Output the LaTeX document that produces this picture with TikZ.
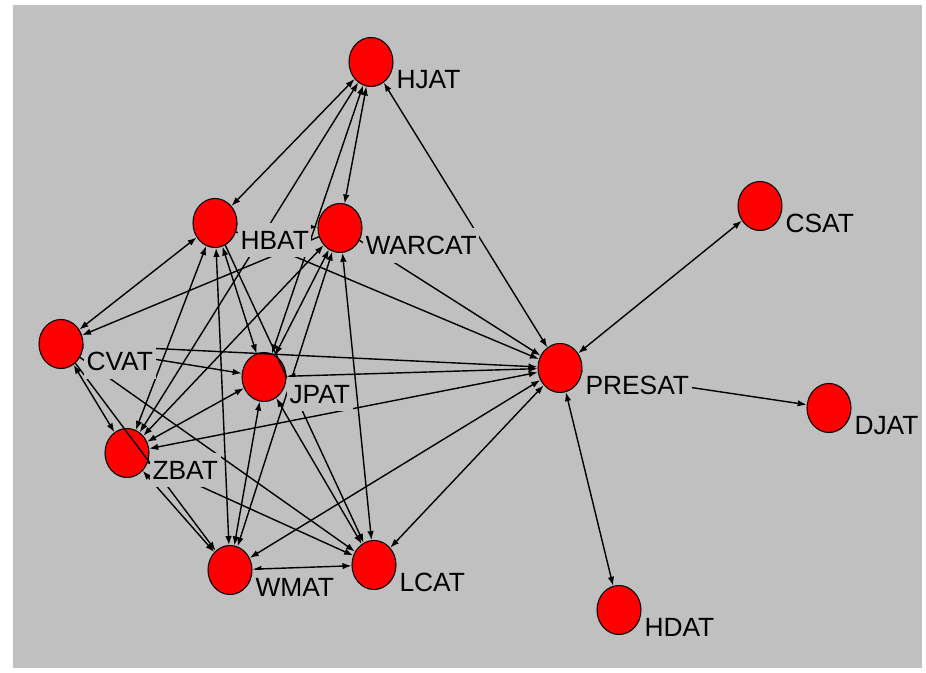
\documentclass[tikz,border=0pt]{standalone}
\usepackage{tikz}
\usepackage{fontspec}
\setmainfont{Liberation Sans}
\usetikzlibrary{shapes.geometric,arrows.meta}
\definecolor{netgray}{RGB}{192,192,192}
\definecolor{netred}{RGB}{255,0,0}

\begin{document}
\begin{tikzpicture}[
    actor/.style={ellipse,draw=black,fill=netred,line width=0.6pt,minimum width=0.88cm,minimum height=0.98cm,inner sep=0pt},
    actorlabel/.style={fill=netgray,anchor=north west,inner xsep=1.5pt,inner ysep=4.45pt,yshift=0cm,font=\fontsize{15}{17}\selectfont},
    tie/.style={line width=0.8pt,>={Latex[length=1.8mm,width=1.3mm]}}
]
    \useasboundingbox (0,0) rectangle (18.52,13.46);
    \fill[netgray] (0.26,0.1) rectangle (18.44,13.36);

    \node[actor] (hjat) at (7.42,12.22) {};
    \node[actor] (hbat) at (4.30,9.00) {};
    \node[actor] (warcat) at (6.80,8.90) {};
    \node[actor] (cvat) at (1.22,6.58) {};
    \node[actor] (jpat) at (5.28,5.92) {};
    \node[actor] (presat) at (11.20,6.10) {};
    \node[actor] (csat) at (15.20,9.34) {};
    \node[actor] (djat) at (16.58,5.30) {};
    \node[actor] (hdat) at (12.38,1.26) {};
    \node[actor] (zbat) at (2.54,4.40) {};
    \node[actor] (wmat) at (4.60,2.06) {};
    \node[actor] (lcat) at (7.48,2.16) {};

    % ties of PRESAT
    \draw[tie,->] (presat) -- (djat);
    \draw[tie,<->] (presat) -- (csat);
    \draw[tie,<->] (presat) -- (hdat);
    \draw[tie,<->] (hjat) -- (presat);
    \draw[tie,->] (warcat) -- (presat);
    \draw[tie,->] (hbat) -- (presat);
    \draw[tie,->] (cvat) -- (presat);
    \draw[tie,<->] (jpat) -- (presat);
    \draw[tie,<->] (zbat) -- (presat);
    \draw[tie,<->] (wmat) -- (presat);
    \draw[tie,<->] (lcat) -- (presat);

    % ties of the cluster
    \draw[tie,<->] (hjat) -- (hbat);
    \draw[tie,<->] (hjat) -- (warcat);
    \draw[tie,<->] (zbat) -- (hjat);
    \draw[tie,<->] (jpat) -- (hjat);
    \draw[tie,<->] (hbat) -- (cvat);
    \draw[tie,->] (hbat) -- (warcat);
    \draw[tie,<->] (zbat) -- (hbat);
    \draw[tie,<->] (wmat) -- (hbat);
    \draw[tie,<->] (hbat) -- (jpat);
    \draw[tie,->] (hbat) -- (lcat);
    \draw[tie,->] (warcat) -- (cvat);
    \draw[tie,<->] (warcat) -- (zbat);
    \draw[tie,<->] (warcat) -- (jpat);
    \draw[tie,<->] (warcat) -- (lcat);
    \draw[tie,<->] (warcat) -- (wmat);
    \draw[tie,->] (cvat) -- (jpat);
    \draw[tie,<->] (cvat) -- (zbat);
    \draw[tie,->] (cvat) -- (wmat);
    \draw[tie,->] (cvat) -- (lcat);
    \draw[tie,<->] (jpat) -- (zbat);
    \draw[tie,<->] (jpat) -- (wmat);
    \draw[tie,<->] (jpat) -- (lcat);
    \draw[tie,<->] (zbat) -- (wmat);
    \draw[tie,->] (zbat) -- (lcat);
    \draw[tie,<->] (wmat) -- (lcat);

    % labels
    \node[actorlabel] (hjatl) at (hjat.east) {HJAT};
    \node[actorlabel] (hbatl) at (hbat.east) {HBAT};
    \node[actorlabel] (warcatl) at (warcat.east) {WARCAT};
    \node[actorlabel] (cvatl) at (cvat.east) {CVAT};
    \node[actorlabel] (jpatl) at (jpat.east) {JPAT};
    \node[actorlabel] (presatl) at (presat.east) {PRESAT};
    \node[actorlabel] (csatl) at (csat.east) {CSAT};
    \node[actorlabel] (djatl) at (djat.east) {DJAT};
    \node[actorlabel] (hdatl) at (hdat.east) {HDAT};
    \node[actorlabel] (zbatl) at (zbat.east) {ZBAT};
    \node[actorlabel] (wmatl) at (wmat.east) {WMAT};
    \node[actorlabel] (lcatl) at (lcat.east) {LCAT};
\end{tikzpicture}
\end{document}
